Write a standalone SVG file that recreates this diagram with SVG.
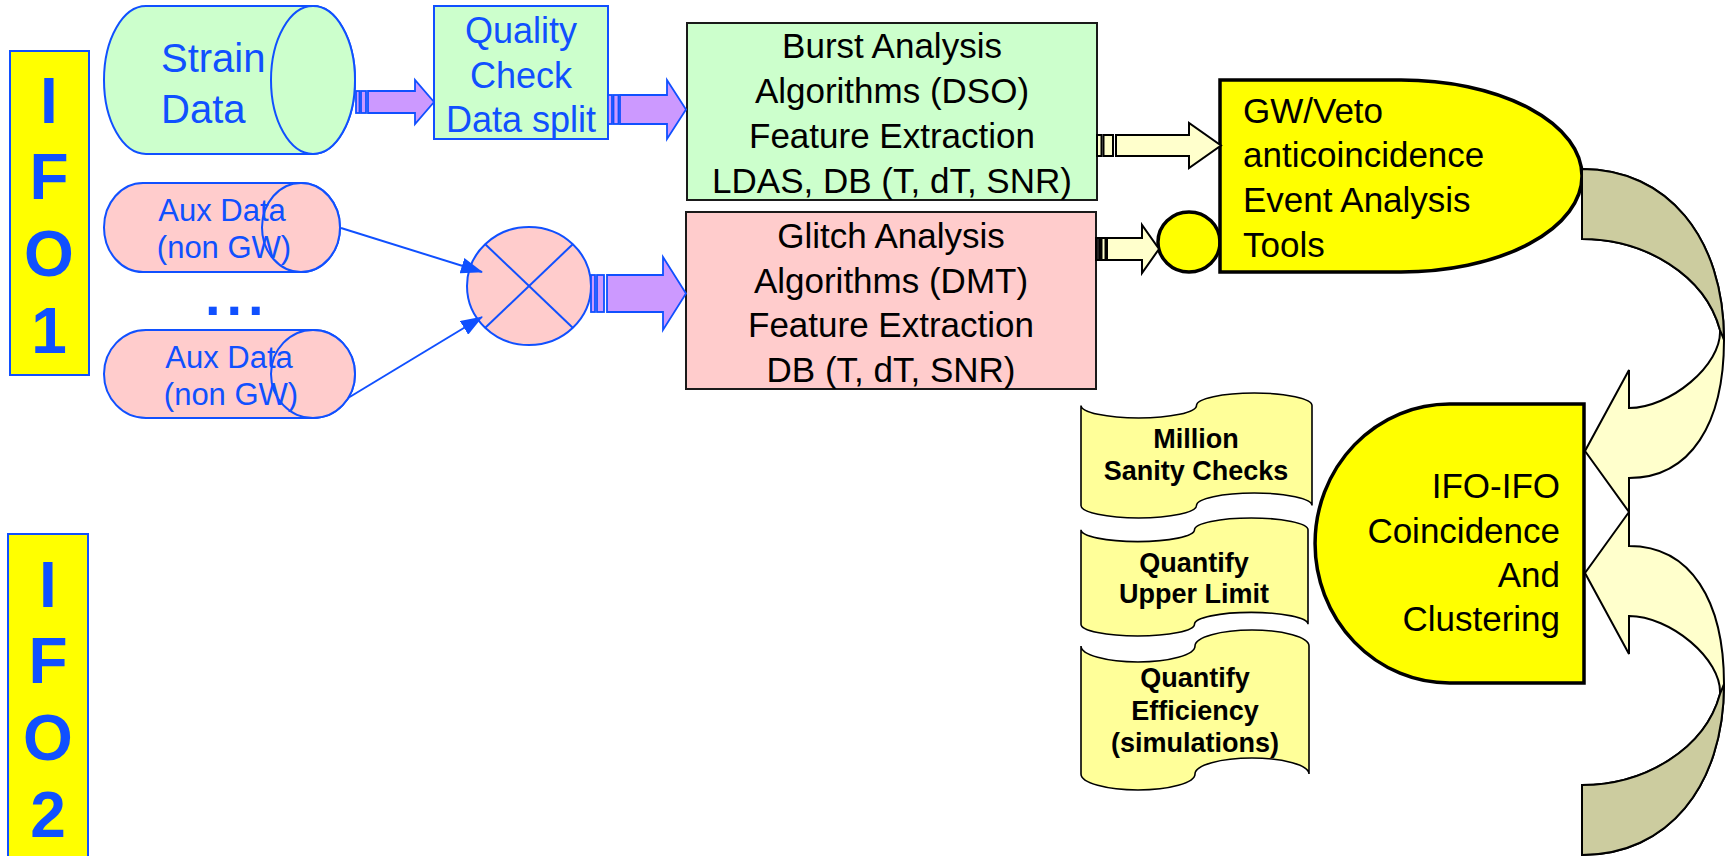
<svg xmlns="http://www.w3.org/2000/svg" width="1728" height="856" viewBox="0 0 1728 856">
<style>
text{font-family:"Liberation Sans",Arial,sans-serif}
.bt{fill:#1050ff}
.kt{fill:#000}
.bs{stroke:#1050ff;stroke-width:2}
.ks{stroke:#1a1a1a;stroke-width:2}
.th{stroke:#000;stroke-width:3.5}
.ifo{font-size:64px;font-weight:bold;text-anchor:middle;fill:#1050ff}
.mid{text-anchor:middle}
.end{text-anchor:end}
.f35{font-size:35px}
.scr{font-size:27px;font-weight:bold;text-anchor:middle;fill:#000}
.green{fill:#ccffcc}
.pink{fill:#ffcccc}
.yel{fill:#ffff00}
.paper{fill:#ffff99;stroke:#000;stroke-width:1.6}
.purp{fill:#cc99ff;stroke:#1050ff;stroke-width:1.8}
.lyel{fill:#ffffcc;stroke:#000;stroke-width:2;stroke-linejoin:miter}
.olive{fill:#cccc9f;stroke:#000;stroke-width:2}
</style>
<defs>
<marker id="ah" markerUnits="userSpaceOnUse" markerWidth="22" markerHeight="16" refX="21" refY="8" orient="auto"><path d="M0,0L22,8L0,16Z" fill="#1050ff"/></marker>
<path id="curv" d="M1582,169 C1667,169 1724,237 1724,340 C1724,423 1691,478 1629,478 L1629,512 L1585,451 L1629,370 L1629,408 C1670,408 1722,365 1720,330 C1705,275 1645,239 1582,239 Z"/>
<path id="curvback" d="M1582,169 C1667,169 1724,237 1724,340 L1720,330 C1705,275 1645,239 1582,239 Z"/>
</defs>
<rect width="1728" height="856" fill="#fff"/>

<g id="ifo1">
<rect x="10" y="51" width="79" height="324" class="yel bs" stroke-width="2.5"/>
<text class="ifo" x="49" y="123">I</text>
<text class="ifo" x="49" y="199">F</text>
<text class="ifo" x="49" y="276">O</text>
<text class="ifo" x="49" y="353">1</text>
</g>

<g id="ifo2">
<rect x="8" y="534" width="80" height="340" class="yel bs" stroke-width="2.5"/>
<text class="ifo" x="48" y="607">I</text>
<text class="ifo" x="48" y="683">F</text>
<text class="ifo" x="48" y="760">O</text>
<text class="ifo" x="48" y="837">2</text>
</g>

<g id="strain-data">
<path d="M146,6 L313,6 A42,74 0 0 1 313,154 L146,154 A42,74 0 0 1 146,6 Z" class="green bs"/>
<ellipse cx="313" cy="80" rx="42" ry="74" class="green bs"/>
<text class="bt" x="161" y="72" font-size="40">Strain</text>
<text class="bt" x="161" y="123" font-size="40">Data</text>
</g>

<g id="quality-check">
<rect x="434" y="6" width="174" height="133" class="green bs"/>
<text class="bt mid" x="521" y="43" font-size="36">Quality</text>
<text class="bt mid" x="521" y="88" font-size="36">Check</text>
<text class="bt mid" x="521" y="132" font-size="36">Data split</text>
</g>

<g id="aux-data-1">
<path d="M143,183 L301,183 A39,44.5 0 0 1 301,272 L143,272 A39,44.5 0 0 1 143,183 Z" class="pink bs"/>
<ellipse cx="301" cy="227.5" rx="39" ry="44.5" class="pink bs"/>
<text class="bt mid" x="222" y="221" font-size="31">Aux Data</text>
<text class="bt mid" x="224" y="258" font-size="31">(non GW)</text>
</g>

<g id="ellipsis">
<text class="bt" x="205" y="315" font-size="56" font-weight="bold" letter-spacing="6">...</text>
</g>

<g id="aux-data-2">
<path d="M146,330 L313,330 A42,44 0 0 1 313,418 L146,418 A42,44 0 0 1 146,330 Z" class="pink bs"/>
<ellipse cx="313" cy="374" rx="42" ry="44" class="pink bs"/>
<text class="bt mid" x="229" y="368" font-size="31">Aux Data</text>
<text class="bt mid" x="231" y="405" font-size="31">(non GW)</text>
</g>

<g id="combiner">
<ellipse cx="529" cy="286" rx="62" ry="59" class="pink bs"/>
<line x1="485" y1="244" x2="573" y2="328" class="bs"/>
<line x1="573" y1="244" x2="485" y2="328" class="bs"/>
</g>

<g id="burst-analysis">
<rect x="687" y="23" width="410" height="177" class="green ks"/>
<text class="kt mid f35" x="892" y="58">Burst Analysis</text>
<text class="kt mid f35" x="892" y="103">Algorithms (DSO)</text>
<text class="kt mid f35" x="892" y="148">Feature Extraction</text>
<text class="kt mid f35" x="892" y="193">LDAS, DB (T, dT, SNR)</text>
</g>

<g id="glitch-analysis">
<rect x="686" y="212" width="410" height="177" class="pink ks"/>
<text class="kt mid f35" x="891" y="248">Glitch Analysis</text>
<text class="kt mid f35" x="891" y="293">Algorithms (DMT)</text>
<text class="kt mid f35" x="891" y="337">Feature Extraction</text>
<text class="kt mid f35" x="891" y="382">DB (T, dT, SNR)</text>
</g>

<g id="veto-connector">
<ellipse cx="1189" cy="242" rx="31" ry="30" class="yel th"/>
</g>

<g id="gw-veto">
<path d="M1220,80 L1401,80 A181,96 0 0 1 1401,272 L1220,272 Z" class="yel th"/>
<text class="kt f35" x="1243" y="123">GW/Veto</text>
<text class="kt f35" x="1243" y="167">anticoincidence</text>
<text class="kt f35" x="1243" y="212">Event Analysis</text>
<text class="kt f35" x="1243" y="257">Tools</text>
</g>

<g id="ifo-ifo">
<path d="M1584,404 L1449.5,404 A134.5,139.5 0 0 0 1449.5,683 L1584,683 Z" class="yel th"/>
<text class="kt end f35" x="1560" y="498">IFO-IFO</text>
<text class="kt end f35" x="1560" y="543">Coincidence</text>
<text class="kt end f35" x="1560" y="587">And</text>
<text class="kt end f35" x="1560" y="631">Clustering</text>
</g>

<g id="sanity-checks">
<path d="M1081,405.5 A57.75,12.5 0 0 0 1196.5,405.5 A57.75,12.5 0 0 1 1312,405.5 L1312,505.5 A57.75,12.5 0 0 0 1196.5,505.5 A57.75,12.5 0 0 1 1081,505.5 Z" class="paper"/>
<text class="scr" x="1196" y="448">Million</text>
<text class="scr" x="1196" y="480">Sanity Checks</text>
</g>

<g id="upper-limit">
<path d="M1081,529.8 A56.75,11.8 0 0 0 1194.5,529.8 A56.75,11.8 0 0 1 1308,529.8 L1308,624.2 A56.75,11.8 0 0 0 1194.5,624.2 A56.75,11.8 0 0 1 1081,624.2 Z" class="paper"/>
<text class="scr" x="1194" y="572">Quantify</text>
<text class="scr" x="1194" y="603">Upper Limit</text>
</g>

<g id="efficiency">
<path d="M1081,646 A57,16 0 0 0 1195,646 A57,16 0 0 1 1309,646 L1309,774 A57,16 0 0 0 1195,774 A57,16 0 0 1 1081,774 Z" class="paper"/>
<text class="scr" x="1195" y="687">Quantify</text>
<text class="scr" x="1195" y="720">Efficiency</text>
<text class="scr" x="1195" y="752">(simulations)</text>
</g>

<g id="connectors">
<g id="strain-to-quality">
<rect x="356" y="91" width="3.5" height="22" class="purp"/>
<rect x="361" y="91" width="5" height="22" class="purp"/>
<path d="M368,91 L415,91 L415,80 L434,102 L415,124 L415,113 L368,113 Z" class="purp"/>
</g>
<g id="quality-to-burst">
<rect x="608" y="95" width="4" height="29" class="purp"/>
<rect x="613.5" y="95" width="5" height="29" class="purp"/>
<path d="M620,95 L667,95 L667,80 L686,109.5 L667,139 L667,124 L620,124 Z" class="purp"/>
</g>
<g id="combiner-to-glitch">
<rect x="591" y="275" width="4" height="37" class="purp"/>
<rect x="597" y="275" width="7" height="37" class="purp"/>
<path d="M607,275 L663,275 L663,257 L686,293.5 L663,330 L663,312 L607,312 Z" class="purp"/>
</g>
<line x1="341" y1="228" x2="482" y2="272" class="bs" marker-end="url(#ah)"/>
<line x1="348" y1="398" x2="482" y2="317" class="bs" marker-end="url(#ah)"/>
<g id="burst-to-gw">
<rect x="1097" y="135" width="4.5" height="21" class="lyel"/>
<rect x="1103.5" y="135" width="9.5" height="21" class="lyel"/>
<path d="M1116,135 L1189,135 L1189,123 L1221,145.5 L1189,168 L1189,156 L1116,156 Z" class="lyel"/>
</g>
<g id="glitch-to-veto">
<rect x="1096" y="238" width="4" height="22" fill="#222" stroke="#000" stroke-width="2"/>
<rect x="1101.5" y="238" width="4" height="22" class="lyel"/>
<path d="M1107,238 L1142,238 L1142,225 L1159,249 L1142,273 L1142,260 L1107,260 Z" class="lyel"/>
</g>
<g id="gw-to-coincidence">
<use href="#curv" class="lyel"/>
<use href="#curvback" class="olive"/>
</g>
<g id="ifo2-to-coincidence" transform="matrix(1 0 0 -1 0 1024)">
<use href="#curv" class="lyel"/>
<use href="#curvback" class="olive"/>
</g>
</g>
</svg>
